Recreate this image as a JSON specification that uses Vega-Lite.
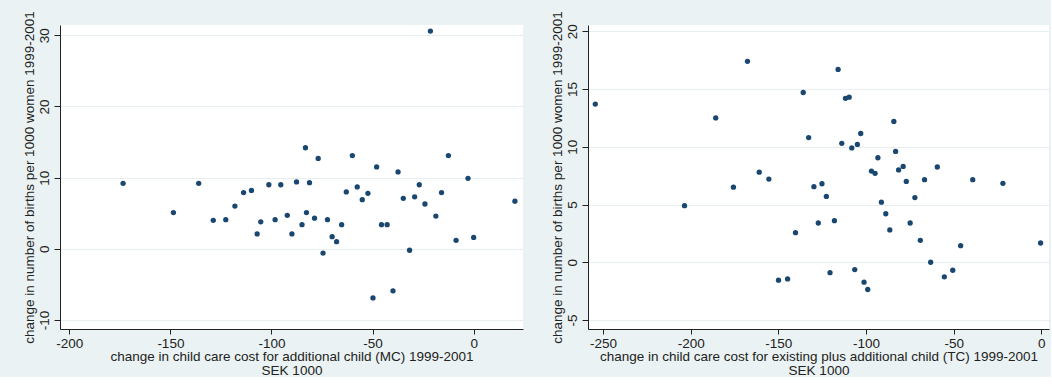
{
  "$schema": "https://vega.github.io/schema/vega-lite/v6.json",
  "background": "#eaf2f3",
  "padding": {"left": 22, "top": 10, "right": 2, "bottom": 0},
  "spacing": 27,
  "config": {
    "font": "Liberation Sans",
    "view": {"stroke": null, "fill": "#ffffff"},
    "axis": {
      "labelFont": "Liberation Sans",
      "titleFont": "Liberation Sans",
      "labelFontSize": 13.5,
      "titleFontSize": 13.5,
      "titleFontWeight": "normal",
      "labelColor": "#222222",
      "titleColor": "#222222",
      "domainColor": "#222222",
      "tickColor": "#222222",
      "domainWidth": 1,
      "tickWidth": 1,
      "gridColor": "#e6eeef",
      "gridWidth": 1.2,
      "labelOverlap": false,
      "labelExpr": "'' + datum.value"
    },
    "axisX": {
      "grid": false,
      "tickSize": 5,
      "labelPadding": 2,
      "titlePadding": 0,
      "titleLineHeight": 14
    },
    "axisY": {
      "grid": true,
      "tickSize": 6,
      "labelPadding": 3,
      "labelAngle": -90,
      "labelAlign": "center",
      "labelBaseline": "bottom",
      "titlePadding": 1
    }
  },
  "datasets": {
    "mc": [
      {"cost_change": -173.4, "births_change": 9.2},
      {"cost_change": -148.5, "births_change": 5.1},
      {"cost_change": -136.0, "births_change": 9.2},
      {"cost_change": -128.8, "births_change": 4.0},
      {"cost_change": -122.6, "births_change": 4.1},
      {"cost_change": -118.1, "births_change": 6.0},
      {"cost_change": -113.8, "births_change": 7.9},
      {"cost_change": -109.9, "births_change": 8.2},
      {"cost_change": -107.1, "births_change": 2.1},
      {"cost_change": -105.3, "births_change": 3.8},
      {"cost_change": -101.3, "births_change": 9.0},
      {"cost_change": -98.2, "births_change": 4.1},
      {"cost_change": -95.4, "births_change": 9.0},
      {"cost_change": -92.2, "births_change": 4.7},
      {"cost_change": -89.9, "births_change": 2.1},
      {"cost_change": -87.6, "births_change": 9.4},
      {"cost_change": -84.9, "births_change": 3.4},
      {"cost_change": -83.2, "births_change": 14.2},
      {"cost_change": -82.7, "births_change": 5.1},
      {"cost_change": -81.2, "births_change": 9.3},
      {"cost_change": -78.7, "births_change": 4.3},
      {"cost_change": -76.9, "births_change": 12.7},
      {"cost_change": -74.5, "births_change": -0.6},
      {"cost_change": -72.3, "births_change": 4.1},
      {"cost_change": -70.0, "births_change": 1.7},
      {"cost_change": -67.8, "births_change": 1.0},
      {"cost_change": -65.3, "births_change": 3.4},
      {"cost_change": -63.0, "births_change": 8.0},
      {"cost_change": -60.0, "births_change": 13.1},
      {"cost_change": -57.6, "births_change": 8.7},
      {"cost_change": -55.1, "births_change": 6.9},
      {"cost_change": -52.3, "births_change": 7.8},
      {"cost_change": -49.8, "births_change": -6.9},
      {"cost_change": -48.0, "births_change": 11.5},
      {"cost_change": -45.6, "births_change": 3.4},
      {"cost_change": -42.8, "births_change": 3.4},
      {"cost_change": -39.9, "births_change": -5.9},
      {"cost_change": -37.4, "births_change": 10.8},
      {"cost_change": -34.8, "births_change": 7.1},
      {"cost_change": -31.7, "births_change": -0.2},
      {"cost_change": -29.2, "births_change": 7.3},
      {"cost_change": -26.9, "births_change": 9.0},
      {"cost_change": -24.1, "births_change": 6.3},
      {"cost_change": -21.4, "births_change": 30.6},
      {"cost_change": -18.7, "births_change": 4.6},
      {"cost_change": -15.9, "births_change": 7.9},
      {"cost_change": -12.5, "births_change": 13.1},
      {"cost_change": -8.7, "births_change": 1.2},
      {"cost_change": -2.8, "births_change": 9.9},
      {"cost_change": 0.0, "births_change": 1.6},
      {"cost_change": 20.4, "births_change": 6.7}
    ],
    "tc": [
      {"cost_change": -254.4, "births_change": 13.7},
      {"cost_change": -203.5, "births_change": 4.9},
      {"cost_change": -185.7, "births_change": 12.5},
      {"cost_change": -175.6, "births_change": 6.5},
      {"cost_change": -167.6, "births_change": 17.4},
      {"cost_change": -160.9, "births_change": 7.8},
      {"cost_change": -155.4, "births_change": 7.2},
      {"cost_change": -149.9, "births_change": -1.55},
      {"cost_change": -144.7, "births_change": -1.44},
      {"cost_change": -140.2, "births_change": 2.56},
      {"cost_change": -135.8, "births_change": 14.7},
      {"cost_change": -132.7, "births_change": 10.8},
      {"cost_change": -129.7, "births_change": 6.55},
      {"cost_change": -127.2, "births_change": 3.4},
      {"cost_change": -125.1, "births_change": 6.8},
      {"cost_change": -122.6, "births_change": 5.7},
      {"cost_change": -120.5, "births_change": -0.9},
      {"cost_change": -118.0, "births_change": 3.6},
      {"cost_change": -115.9, "births_change": 16.7},
      {"cost_change": -113.8, "births_change": 10.3},
      {"cost_change": -111.7, "births_change": 14.2},
      {"cost_change": -109.6, "births_change": 14.3},
      {"cost_change": -108.1, "births_change": 9.9},
      {"cost_change": -106.4, "births_change": -0.63},
      {"cost_change": -104.9, "births_change": 10.2},
      {"cost_change": -103.0, "births_change": 11.15},
      {"cost_change": -101.1, "births_change": -1.72},
      {"cost_change": -99.0, "births_change": -2.36},
      {"cost_change": -96.9, "births_change": 7.9},
      {"cost_change": -94.8, "births_change": 7.7},
      {"cost_change": -93.2, "births_change": 9.05},
      {"cost_change": -91.2, "births_change": 5.2},
      {"cost_change": -88.7, "births_change": 4.2},
      {"cost_change": -86.4, "births_change": 2.8},
      {"cost_change": -84.1, "births_change": 12.2},
      {"cost_change": -83.1, "births_change": 9.6},
      {"cost_change": -81.4, "births_change": 8.0},
      {"cost_change": -78.8, "births_change": 8.3},
      {"cost_change": -77.0, "births_change": 7.0},
      {"cost_change": -74.8, "births_change": 3.4},
      {"cost_change": -72.1, "births_change": 5.6},
      {"cost_change": -69.0, "births_change": 1.9},
      {"cost_change": -66.6, "births_change": 7.15},
      {"cost_change": -63.1, "births_change": 0.0},
      {"cost_change": -59.3, "births_change": 8.25},
      {"cost_change": -55.3, "births_change": -1.26},
      {"cost_change": -50.5, "births_change": -0.69},
      {"cost_change": -46.0, "births_change": 1.44},
      {"cost_change": -39.1, "births_change": 7.15},
      {"cost_change": -21.9, "births_change": 6.84},
      {"cost_change": -0.4, "births_change": 1.67}
    ]
  },
  "hconcat": [
    {
      "width": 463,
      "height": 304,
      "data": {"name": "mc"},
      "mark": {"type": "point", "filled": true, "size": 28, "color": "#1a476f", "opacity": 1},
      "encoding": {
        "x": {
          "field": "cost_change",
          "type": "quantitative",
          "scale": {"domain": [-204.6, 24.4], "nice": false, "zero": false},
          "axis": {
            "values": [-200, -150, -100, -50, 0],
            "title": ["change in child care cost for additional child (MC) 1999-2001", "SEK 1000"]
          }
        },
        "y": {
          "field": "births_change",
          "type": "quantitative",
          "scale": {"domain": [-11.264, 31.447], "nice": false, "zero": false},
          "axis": {
            "values": [-10, 0, 10, 20, 30],
            "title": "change in number of births per 1000 women 1999-2001"
          }
        }
      }
    },
    {
      "width": 461,
      "height": 304,
      "data": {"name": "tc"},
      "mark": {"type": "point", "filled": true, "size": 28, "color": "#1a476f", "opacity": 1},
      "encoding": {
        "x": {
          "field": "cost_change",
          "type": "quantitative",
          "scale": {"domain": [-258.56, 4.4], "nice": false, "zero": false},
          "axis": {
            "values": [-250, -200, -150, -100, -50, 0],
            "title": ["change in child care cost for existing plus additional child (TC) 1999-2001", "SEK 1000"]
          }
        },
        "y": {
          "field": "births_change",
          "type": "quantitative",
          "scale": {"domain": [-5.779, 20.546], "nice": false, "zero": false},
          "axis": {
            "values": [-5, 0, 5, 10, 15, 20],
            "title": "change in number of births per 1000 women 1999-2001"
          }
        }
      }
    }
  ]
}
